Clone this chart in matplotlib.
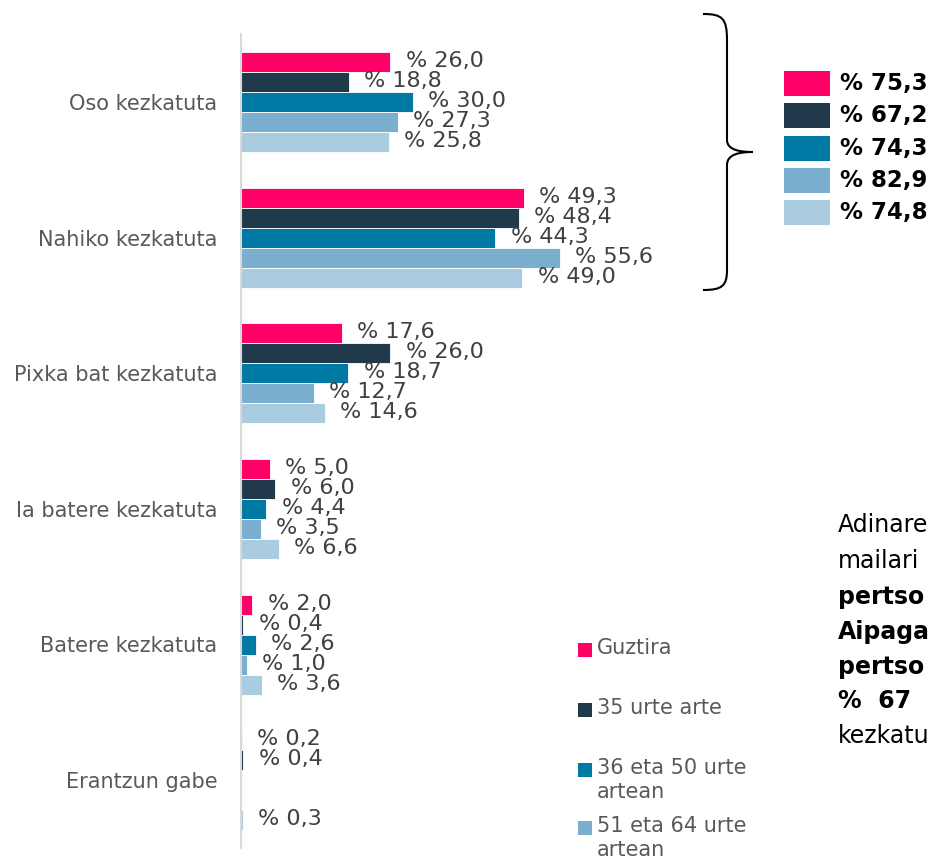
import matplotlib
matplotlib.use("Agg")
import matplotlib.pyplot as plt
from matplotlib.patches import Rectangle
from matplotlib.path import Path
from matplotlib.patches import PathPatch
import numpy as np

plt.rcParams['font.family'] = ['DejaVu Sans']

categories = ["Oso kezkatuta", "Nahiko kezkatuta", "Pixka bat kezkatuta",
              "Ia batere kezkatuta", "Batere kezkatuta", "Erantzun gabe"]
series_names = ["Guztira", "35 urte arte", "36 eta 50 urte\nartean",
                "51 eta 64 urte\nartean", "65 urte eta\ngehiago"]
colors = ["#FF0066", "#203A4C", "#0079A5", "#7BAFD0", "#A9CCE0"]

guztira = [26.0, 49.3, 17.6, 5.0, 2.0, 0.2]
urte_35 = [18.8, 48.4, 26.0, 6.0, 0.4, 0.4]
urte_36_50 = [30.0, 44.3, 18.7, 4.4, 2.6, 0.0]
urte_51_64 = [27.3, 55.6, 12.7, 3.5, 1.0, 0.0]
urte_65 = [25.8, 49.0, 14.6, 6.6, 3.6, 0.3]
series_values = [guztira, urte_35, urte_36_50, urte_51_64, urte_65]

summary_values = [75.3, 67.2, 74.3, 82.9, 74.8]

# visible fragments of the side comment (cut by the page edge in the source)
side_lines = ["Adinare", "mailari", "pertso", "Aipaga", "pertso", "%  67", "kezkatu"]
side_weights = ["normal", "normal", "bold", "bold", "bold", "bold", "normal"]

W, H = 934, 868
fig = plt.figure(figsize=(W / 100, H / 100), dpi=100)

# main axes
ax_left, ax_right = 241, 585
ax_top, ax_bot = 34, 848
ax = fig.add_axes([ax_left / W, 1 - ax_bot / H, (ax_right - ax_left) / W, (ax_bot - ax_top) / H])
xmax = (ax_right - ax_left) / 5.74
ax.set_xlim(0, xmax)
n = len(categories)
ax.set_ylim(n - 0.5, -0.5)

bh = 20 / ((ax_bot - ax_top) / n)
y = np.arange(n)
for j, (vals, col) in enumerate(zip(series_values, colors)):
    yy = y + (j - 2) * bh
    ax.barh(yy, vals, height=bh, color=col, edgecolor="white", linewidth=0.6)
    for yi, v in zip(yy, vals):
        if v > 0:
            ax.annotate(f"% {v:.1f}".replace(".", ","), xy=(v, yi), xytext=(11, 0.5),
                        textcoords="offset points", ha="left", va="center",
                        fontsize=16, color="#404040", annotation_clip=False)

ax.set_yticks(y)
ax.set_yticklabels(categories, fontsize=15, color="#595959")
ax.tick_params(axis="y", length=0, pad=17)
ax.set_xticks([])
for s in ["top", "right", "bottom"]:
    ax.spines[s].set_visible(False)
ax.spines["left"].set_color("#D9D9D9")
ax.spines["left"].set_linewidth(1.5)

# overlay axes in pixel coordinates for decorations
ov = fig.add_axes([0, 0, 1, 1], facecolor="none")
ov.set_xlim(0, W)
ov.set_ylim(H, 0)
ov.axis("off")

# brace
verts = [(703, 14), (722, 14), (727, 18), (727, 40),
         (727, 140),
         (727, 150), (740, 152), (753, 152),
         (740, 152), (727, 154), (727, 165),
         (727, 270),
         (727, 286), (722, 290), (703, 290)]
codes = [Path.MOVETO, Path.CURVE4, Path.CURVE4, Path.CURVE4,
         Path.LINETO,
         Path.CURVE4, Path.CURVE4, Path.CURVE4,
         Path.CURVE4, Path.CURVE4, Path.CURVE4,
         Path.LINETO,
         Path.CURVE4, Path.CURVE4, Path.CURVE4]
ov.add_patch(PathPatch(Path(verts, codes), facecolor="none", edgecolor="black", linewidth=1.5))

# summary boxes
sum_tops = [71, 103, 136, 168, 200]
for top, col, v in zip(sum_tops, colors, summary_values):
    ov.add_patch(Rectangle((784, top), 46, 25, facecolor=col, edgecolor="none"))
    ov.text(840, top + 12.5, f"% {v:.1f}".replace(".", ","), ha="left", va="center",
            fontsize=16.5, fontweight="bold", color="black")

# legend (manual); only the entries visible in the source fit on the page
leg_y = [650, 710, 770, 828]
for ly, col, name in zip(leg_y, colors, series_names):
    ov.add_patch(Rectangle((578, ly - 7), 14, 14, facecolor=col, edgecolor="none"))
    ov.text(597, ly - 12, name, ha="left", va="top", fontsize=15, color="#595959",
            linespacing=1.22)

# right-side text
line_y = [525, 561, 597, 632, 667, 701, 736]
for t, w, ly in zip(side_lines, side_weights, line_y):
    ov.text(838, ly, t, ha="left", va="center", fontsize=17, fontweight=w, color="black")

fig.savefig("out.png", dpi=100)
